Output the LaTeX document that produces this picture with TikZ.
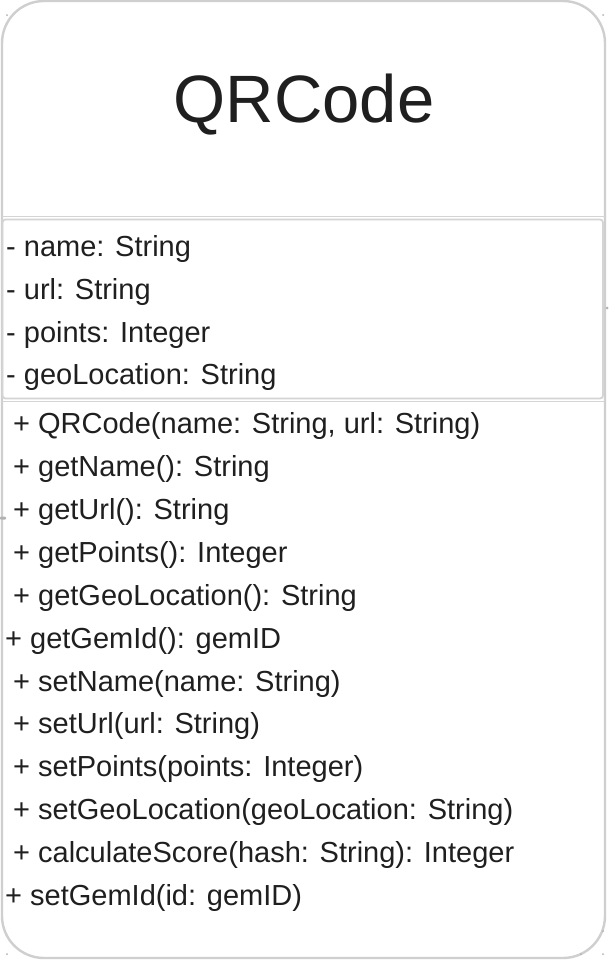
\documentclass[tikz,border=0pt]{standalone}
\usepackage{fontspec}
\setmainfont{Liberation Sans}
\begin{document}
\begin{tikzpicture}[x=1pt,y=-1pt,
  boxline/.style={draw=black!19, line width=2.4pt},
  sepline/.style={draw=black!17, line width=1.8pt},
  member/.style={anchor=base west, inner sep=0pt, text=black!88, font=\fontsize{29}{29}\selectfont},
  titletext/.style={anchor=base, inner sep=0pt, text=black!88, font=\fontsize{67}{67}\selectfont},
  handle/.style={fill=black!30, draw=none}]
\useasboundingbox (0,0) rectangle (608,961);
\fill[white] (0,0) rectangle (608,961);
% outer class box
\draw[boxline, rounded corners=42pt] (2,1) rectangle (605,958);
% compartments
\draw[sepline] (2,216.5) -- (605,216.5);
\draw[sepline, rounded corners=3pt] (2.5,219.5) rectangle (603,398.5);
\draw[sepline] (2,401.5) -- (605,401.5);
% title
\node[titletext] (title) at (304,122) {QRCode};
% attributes
\node[member] (a1) at (6,256) {- name: String};
\node[member] (a2) at (6,299) {- url: String};
\node[member] (a3) at (6,342) {- points: Integer};
\node[member] (a4) at (6,384) {- geoLocation: String};
% methods
\node[member] (m1)  at (13,433) {+ QRCode(name: String, url: String)};
\node[member] (m2)  at (13,476) {+ getName(): String};
\node[member] (m3)  at (13,519) {+ getUrl(): String};
\node[member] (m4)  at (13,562) {+ getPoints(): Integer};
\node[member] (m5)  at (13,605) {+ getGeoLocation(): String};
\node[member] (m6)  at (5,648)  {+ getGemId(): gemID};
\node[member] (m7)  at (13,691) {+ setName(name: String)};
\node[member] (m8)  at (13,733) {+ setUrl(url: String)};
\node[member] (m9)  at (13,776) {+ setPoints(points: Integer)};
\node[member] (m10) at (13,819) {+ setGeoLocation(geoLocation: String)};
\node[member] (m11) at (13,862) {+ calculateScore(hash: String): Integer};
\node[member] (m12) at (5,905)  {+ setGemId(id: gemID)};
% selection handles
\fill[handle] (7,15) circle (1pt);
\fill[handle] (603,15) circle (1pt);
\fill[handle] (7,954) circle (1pt);
\fill[handle] (581,954) circle (1pt);
\fill[handle] (603,954) circle (1pt);
\fill[handle] (603,931) circle (1pt);
\fill[handle, rounded corners=1pt] (0,516.5) rectangle (6,519.5);
\fill[handle] (607,308) circle (1.5pt);
\end{tikzpicture}
\end{document}
